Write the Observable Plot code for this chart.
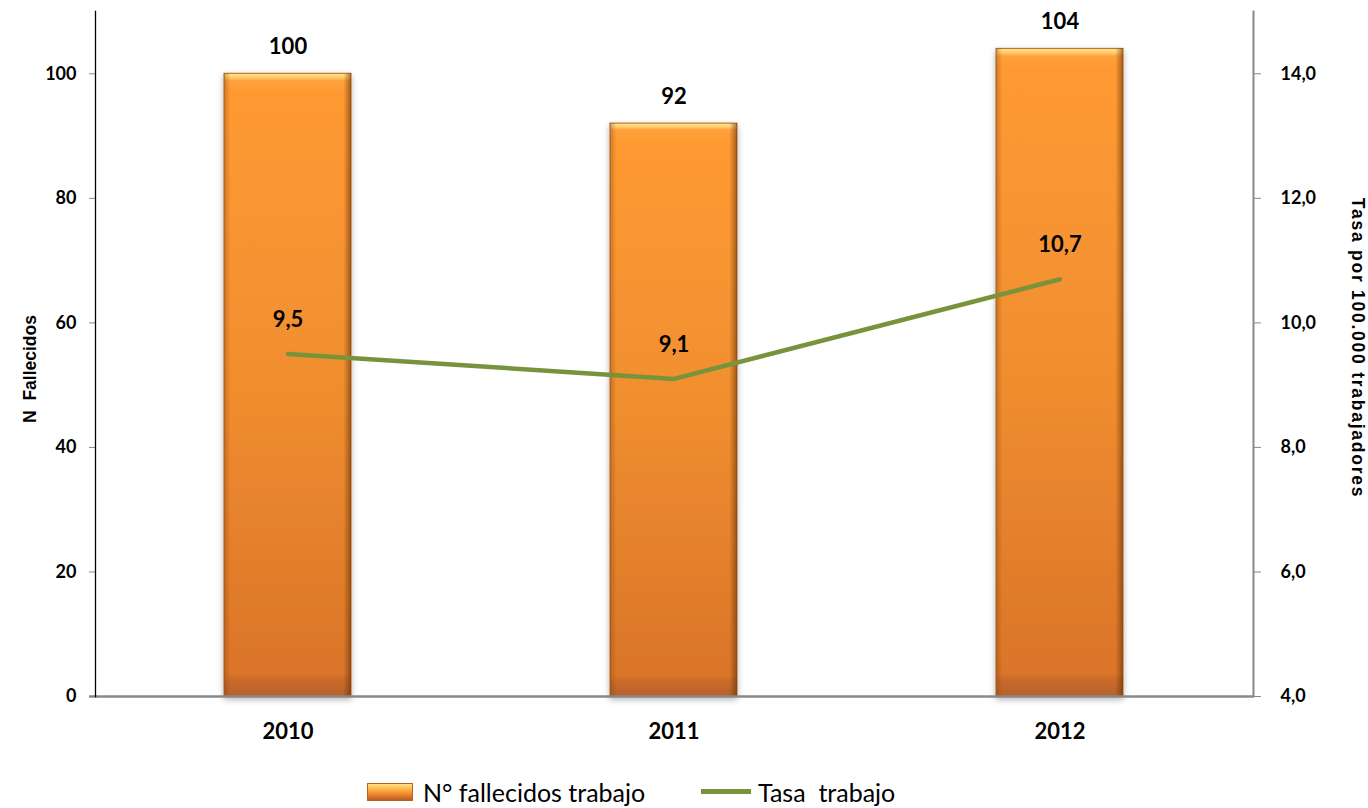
<!DOCTYPE html>
<html>
<head>
<meta charset="utf-8">
<script src="https://cdn.jsdelivr.net/npm/d3@7"></script>
<script src="https://cdn.jsdelivr.net/npm/@observablehq/plot@0.6"></script>
<style>
  html, body { margin: 0; padding: 0; background: #fff; }
  svg text { white-space: pre; }
  #legend { position: relative; height: 33px; font-family: Lato, "Open Sans", sans-serif; font-size: 25px; color: #000; }
  .item { position: absolute; top: 0; display: flex; align-items: center; height: 33px; white-space: pre; }
  .sw-bar { width: 46px; height: 18px; margin-right: 10px; box-sizing: border-box;
    background: linear-gradient(to bottom, #ffe28c 0%, #ffc050 25%, #f59a38 50%, #d9742a 80%, #b35d22 100%);
    border: 1px solid #b8621f; }
  .sw-line { width: 50px; height: 5px; background: #77933C; margin-right: 7px; }
</style>
</head>
<body>
<div id="chart"></div>
<div id="legend">
  <div class="item" style="left:367px"><span class="sw-bar"></span><span>N° fallecidos trabajo</span></div>
  <div class="item" style="left:701px"><span class="sw-line"></span><span>Tasa  trabajo</span></div>
</div>
<script>
const years = ["2010", "2011", "2012"];
const fallecidos = [100, 92, 104];
const tasa = [9.5, 9.1, 10.7];
const leftTicks = [0, 20, 40, 60, 80, 100];
const rightTicks = [4, 6, 8, 10, 12, 14];
const leftTitle = "N  Fallecidos";
const rightTitle = "Tasa por 100.000 trabajadores";

const data = years.map((year, i) => ({year, n: fallecidos[i], tasa: tasa[i]}));
// right axis (4..15) mapped onto left axis domain (0..110)
const toLeft = t => (t - 4) * 10;
const fmtComma = v => v.toFixed(1).replace(".", ",");

const tickFont = "Lato, 'Open Sans', sans-serif";
const titleFont = "'Liberation Sans', Arial, sans-serif";

const plot = Plot.plot({
  width: 1368,
  height: 775,
  marginLeft: 95,
  marginRight: 115,
  marginTop: 11,
  marginBottom: 79,
  style: {fontFamily: tickFont, background: "#fff"},
  x: {domain: years, paddingInner: 0.67, paddingOuter: 0.335},
  y: {domain: [0, 110]},
  marks: [
    Plot.frame({anchor: "right", stroke: "#888", strokeWidth: 2}),
    Plot.barY(data, {x: "year", y: "n", fill: "url(#barGrad)", stroke: "#b5601f", strokeWidth: 1}),
    Plot.barY(data, {x: "year", y: "n", fill: "url(#sideGrad)"}),
    Plot.ruleY([0], {stroke: "#888", strokeWidth: 2.5, insetLeft: -6}),
    Plot.frame({anchor: "left", stroke: "#000", strokeWidth: 1.3}),
    Plot.axisY(leftTicks, {anchor: "left", tickSize: 6, tickPadding: 13, stroke: "#888", fill: "#000",
      fontSize: 18, fontWeight: "bold", label: null}),
    Plot.axisY(rightTicks.map(toLeft), {anchor: "right", tickSize: 7, tickPadding: 20, stroke: "#888", fill: "#000",
      fontSize: 18, fontWeight: "bold", label: null, tickFormat: v => fmtComma(v / 10 + 4)}),
    Plot.axisX({tickSize: 0, tickPadding: 27, fontSize: 22, fontWeight: "bold", label: null}),
    Plot.line(data, {x: "year", y: d => toLeft(d.tasa), stroke: "#77933C", strokeWidth: 4.5}),
    Plot.text(data, {x: "year", y: "n", text: d => String(d.n), dy: -27, fontSize: 22, fontWeight: "bold", fill: "#000"}),
    Plot.text(data, {x: "year", y: d => toLeft(d.tasa), text: d => fmtComma(d.tasa), dy: -34, fontSize: 22, fontWeight: "bold", fill: "#000"}),
    Plot.text([leftTitle], {text: d => d, frameAnchor: "left", textAnchor: "middle", dx: -65, dy: 15, rotate: -90,
      fontFamily: titleFont, fontSize: 17.5, fontWeight: "bold", fill: "#000"}),
    Plot.text([rightTitle], {text: d => d, frameAnchor: "right", textAnchor: "middle", dx: 104, dy: -6, rotate: 90,
      fontFamily: titleFont, fontSize: 17.5, fontWeight: "bold", fill: "#000"})
  ]
});

const svg = d3.select(plot);
svg.insert("defs", ":first-child").html(`
  <linearGradient id="barGrad" x1="0" y1="0" x2="0" y2="1">
    <stop offset="0" stop-color="#ffe48e"/>
    <stop offset="0.006" stop-color="#ffd072"/>
    <stop offset="0.012" stop-color="#ffa13c"/>
    <stop offset="0.03" stop-color="#ff9a33"/>
    <stop offset="0.5" stop-color="#f08e2f"/>
    <stop offset="0.965" stop-color="#da752a"/>
    <stop offset="0.975" stop-color="#c96a29"/>
    <stop offset="1" stop-color="#b7612a"/>
  </linearGradient>
  <linearGradient id="sideGrad" x1="0" y1="0" x2="1" y2="0">
    <stop offset="0" stop-color="#7a3c08" stop-opacity="0.35"/>
    <stop offset="0.05" stop-color="#7a3c08" stop-opacity="0"/>
    <stop offset="0.94" stop-color="#5a2a00" stop-opacity="0"/>
    <stop offset="1" stop-color="#5a2a00" stop-opacity="0.55"/>
  </linearGradient>
  <filter id="shadow" x="-10%" y="-5%" width="120%" height="110%">
    <feDropShadow dx="0" dy="3" stdDeviation="3" flood-color="#000" flood-opacity="0.3"/>
  </filter>
`);
svg.selectAll("g[aria-label=bar]").filter((d, i) => i === 0).attr("filter", "url(#shadow)");
svg.selectAll("text").filter(function() { return this.textContent === rightTitle; })
  .style("letter-spacing", "1.75px");

document.getElementById("chart").appendChild(plot);
</script>
</body>
</html>
